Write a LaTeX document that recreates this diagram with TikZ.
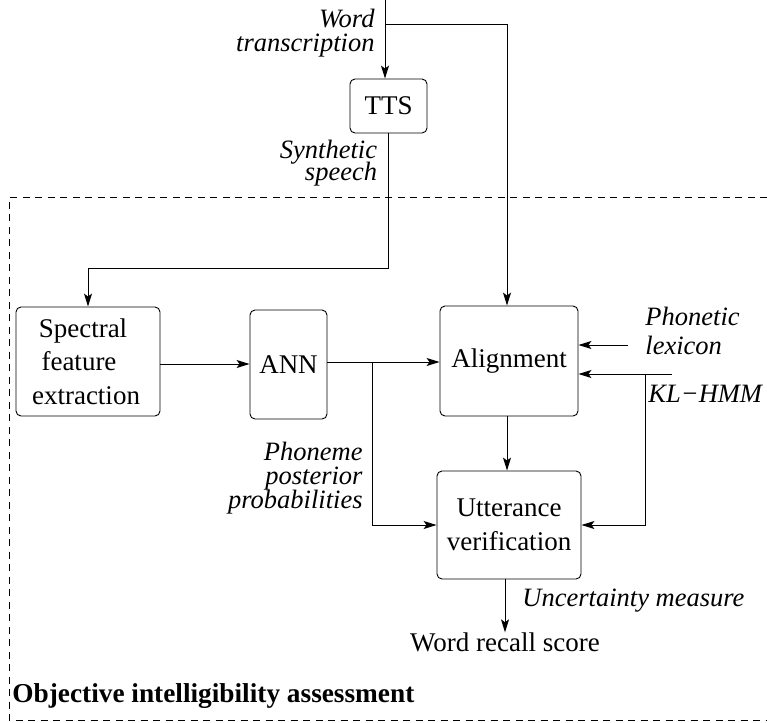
\documentclass[tikz,border=0pt]{standalone}
\usepackage{fontspec}
\setmainfont{Liberation Serif}
\usetikzlibrary{arrows.meta}
\setlength{\lineskiplimit}{-100pt}
\begin{document}
\begin{tikzpicture}[x=1pt,y=-1pt,
  line width=0.9pt,
  box/.style={draw, rounded corners=5pt, inner sep=0pt, align=center,
    font=\fontsize{27}{33.5}\selectfont},
  lab/.style={inner sep=0pt, font=\fontsize{26.5}{24}\selectfont\itshape},
  plain/.style={inner sep=0pt, font=\fontsize{27}{30}\selectfont},
  arr/.style={-{Stealth[length=13pt,width=8pt,inset=3pt]}},
  frame/.style={line width=0.7pt, dash pattern=on 7pt off 5.5pt}]
\useasboundingbox (0,0) rectangle (767,722);

% frame
\draw[frame] (767,197) -- (9,197) -- (9,720) -- (767,720);

% boxes
\node[box, minimum width=77pt, minimum height=54pt] (tts) at (388.5,106) {TTS};
\node[box, minimum width=144pt, minimum height=109pt] (spec) at (88,361.5) {Spectral\kern10pt\relax\\feature\kern18pt\relax\\extraction\kern4pt\relax};
\node[box, minimum width=77pt, minimum height=109pt] (ann) at (288.5,364.5) {ANN};
\node[box, minimum width=138pt, minimum height=110pt] (align) at (509,361) {\raisebox{6pt}{Alignment}};
\node[box, minimum width=144pt, minimum height=108pt] (utt) at (509,525) {Utterance\\verification};
\node[plain, anchor=base] (score) at (505,651.5) {Word recall score};

% free ends
\coordinate (in) at (385,0);
\coordinate (br1) at (385,24);
\coordinate (pb) at (372,362);
\coordinate (pl) at (628,345);
\coordinate (kl) at (672,374);
\coordinate (kb) at (645,374);

% connectors
\draw[arr] (in) -- (in |- tts.north);
\draw[arr] (br1) -| ([xshift=-2pt]align.north);
\draw[arr] (tts.south) -- (tts.south |- 0,268) -| (spec.north);
\draw[arr] (spec.east |- 0,364) -- (ann.west |- 0,364);
\draw[arr] (ann.east |- pb) -- (align.west |- pb);
\draw[arr] (pb) |- (utt.west);
\draw[arr] (pl) -- (align.east |- pl);
\draw[arr] (kl) -- (align.east |- kl);
\draw[arr] (kb) |- (utt.east);
\draw[arr] ([xshift=-2pt]align.south) -- ([xshift=-2pt]utt.north);
\draw[arr] (utt.south -| score.north) -- (score.north);

% labels (anchor at baseline of last line)
\node[lab, align=right, anchor=base east] (wt) at (375,52) {Word\\transcription};
\node[lab, align=right, anchor=base east, font=\fontsize{26.5}{22}\selectfont\itshape] (ss) at (377.5,180.5) {Synthetic\\speech};
\node[lab, align=right, anchor=base east] (pp) at (363,508) {Phoneme\\posterior\\probabilities};
\node[lab, align=left, anchor=base west, font=\fontsize{26.5}{29}\selectfont\itshape] (plx) at (645,354) {Phonetic\\lexicon};
\node[lab, anchor=base west] (klt) at (648,402) {KL−HMM};
\node[lab, anchor=base west] (um) at (522,606) {Uncertainty measure};
\node[inner sep=0pt, anchor=base west, font=\fontsize{27.3}{30}\selectfont\bfseries] (oia) at (12,702) {Objective intelligibility assessment};
\end{tikzpicture}
\end{document}
